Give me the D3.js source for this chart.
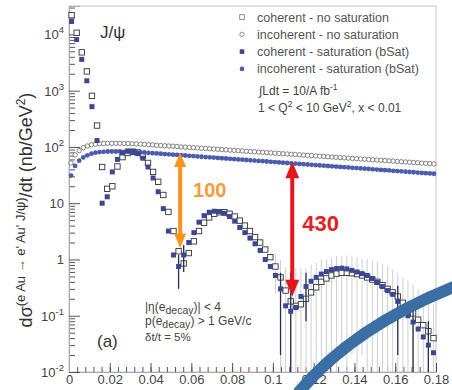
<!DOCTYPE html>
<html>
<head>
<meta charset="utf-8">
<script src="https://cdn.jsdelivr.net/npm/d3@7"></script>
<style>
  body { margin: 0; background: #fff; }
  svg { display: block; }
  text { font-family: "Liberation Sans", Arial, sans-serif; }
</style>
</head>
<body>
<svg id="chart"></svg>
<script>
const width = 452
const height = 390
const margin = { top: 6, right: 16, bottom: 18, left: 69 }

// bin widths of the two t histograms (GeV^2)
const coherentBinWidth = 0.0025
const incoherentBinWidth = 0.002

// coherent, open squares / filled squares (nb/GeV^2)
const coherentNoSat = [22000, 10700, 4800, 2200, 810, 240, 44, 18, 20, 45,
  66, 78, 82, 80, 70, 52, 36, 24, 14, 7,
  3.2, 1.4, 0.85, 1.3, 2.1, 3.2, 4.5, 5.6, 6.5, 6.9,
  6.9, 6.5, 5.8, 4.9, 4.0, 3.2, 2.5, 2.0, 1.5, 1.1,
  0.75, 0.48, 0.28, 0.18, 0.15, 0.16, 0.2, 0.26, 0.32, 0.4,
  0.46, 0.52, 0.56, 0.58, 0.58, 0.57, 0.55, 0.52, 0.48, 0.44,
  0.40, 0.35, 0.30, 0.26, 0.22, 0.17, 0.14, 0.11, 0.085, 0.068,
  0.053, 0.04]
const coherentSat = [17000, 8100, 3600, 1500, 520, 130, 10, 13, 36, 60,
  78, 85, 84, 76, 63, 44, 28, 16, 8, 3.2,
  1.2, 0.75, 1.2, 2.0, 3.0, 4.6, 6.0, 6.9, 7.2, 7.1,
  6.6, 5.8, 4.8, 3.7, 3.0, 2.4, 1.9, 1.45, 1.0, 0.75,
  0.52, 0.3, 0.15, 0.12, 0.14, 0.22, 0.33, 0.41, 0.48, 0.55,
  0.61, 0.66, 0.69, 0.70, 0.68, 0.64, 0.60, 0.56, 0.52, 0.46,
  0.39, 0.33, 0.28, 0.24, 0.18, 0.14, 0.10, 0.077, 0.058, 0.042,
  0.030, 0.022]

// incoherent, open circles / filled circles
const incoherentNoSat = [52, 72, 86, 97, 104, 109, 112, 114, 115, 116,
  116, 116, 116, 115, 115, 114, 113, 112, 111, 110,
  109, 107, 106, 105, 104, 103, 102, 100, 99.4, 98.3,
  97.2, 96.1, 95.0, 93.9, 92.9, 91.8, 90.8, 89.8, 88.8, 87.8,
  86.8, 85.8, 84.9, 83.9, 83.0, 82.0, 81.1, 80.2, 79.3, 78.4,
  77.5, 76.7, 75.8, 75.0, 74.1, 73.3, 72.5, 71.7, 70.9, 70.1,
  69.3, 68.5, 67.7, 67.0, 66.2, 65.5, 64.8, 64.0, 63.3, 62.6,
  61.9, 61.2, 60.5, 59.9, 59.2, 58.5, 57.9, 57.2, 56.6, 56.0,
  55.3, 54.7, 54.1, 53.5, 52.9, 52.3, 51.7, 51.2, 50.6, 50.0]
const incoherentSat = [31, 46, 57, 65, 71, 76, 79, 81, 82, 83,
  83, 83, 83, 82, 82, 81, 81, 80, 80, 78.5,
  77.5, 76.6, 75.7, 74.8, 73.9, 73.0, 72.1, 71.2, 70.4, 69.5,
  68.7, 67.8, 67.0, 66.2, 65.4, 64.6, 63.8, 63.0, 62.3, 61.5,
  60.8, 60.0, 59.3, 58.6, 57.9, 57.2, 56.5, 55.8, 55.1, 54.4,
  53.8, 53.1, 52.5, 51.8, 51.2, 50.6, 50.0, 49.4, 48.8, 48.2,
  47.6, 47.0, 46.4, 45.9, 45.3, 44.8, 44.2, 43.7, 43.2, 42.6,
  42.1, 41.6, 41.1, 40.6, 40.1, 39.6, 39.1, 38.7, 38.2, 37.7,
  37.3, 36.8, 36.4, 35.9, 35.5, 35.1, 34.6, 34.2, 33.8, 33.4]

// [bin index, error] for the coherent points
const coherentNoSatErrors = [[40, 0.5], [41, 0.5], [42, 0.45], [43, 0.45], [44, 0.55], [45, 0.55],
  [46, 0.5], [47, 0.55], [48, 0.55], [49, 0.6], [50, 0.55], [51, 0.55], [52, 0.6], [53, 0.55],
  [54, 0.6], [55, 0.55], [56, 0.55], [57, 0.5], [58, 0.55], [59, 0.5], [60, 0.5], [61, 0.45],
  [62, 0.45], [63, 0.4], [64, 0.35], [65, 0.3], [66, 0.28], [67, 0.25], [68, 0.2], [69, 0.18],
  [70, 0.15], [71, 0.12]]
const coherentSatErrors = [[21, 0.45], [22, 0.6], [41, 0.28], [43, 0.45], [46, 0.25],
  [64, 0.16], [67, 0.07], [70, 0.05]]

const xTicks = [0, 0.02, 0.04, 0.06, 0.08, 0.1, 0.12, 0.14, 0.16, 0.18]
const xTickLabels = ['0', '0.02', '0.04', '0.06', '0.08', '0.1', '0.12', '0.14', '0.16', '0.18']
const yTicks = [1e-2, 1e-1, 1, 10, 1e2, 1e3, 1e4]
const yTickLabels = [['10', '-2'], ['10', '-1'], ['1', ''], ['10', ''], ['10', '2'], ['10', '3'], ['10', '4']]

const legendLabels = ['coherent - no saturation', 'incoherent - no saturation',
  'coherent - saturation (bSat)', 'incoherent - saturation (bSat)']

// ratio arrows: t, upper and lower ends, label
const ratioArrows = [
  { t: 0.0545, top: 79, bottom: 1.6, label: '100', color: '#f7931e', text: '#f59b3c', head: 12 },
  { t: 0.1095, top: 55, bottom: 0.22, label: '430', color: '#e3161d', text: '#e3201f', head: 14 },
]

const colors = {
  openSquare: '#333',
  openCircle: '#666',
  filledSquare: '#3a4894',
  filledCircle: '#4a5cb0',
  frame: '#aaa',
  tick: '#555',
  label: '#444',
}

const svg = d3.select('#chart')
  .attr('width', width)
  .attr('height', height)

svg.append('rect').attr('width', width).attr('height', height).attr('fill', '#fff')

const x = d3.scaleLinear()
  .domain([0, 0.18])
  .range([margin.left, width - margin.right])

const y = d3.scaleLog()
  .domain([0.01, 3.2e4])
  .range([height - margin.bottom, margin.top])

const yMin = y.domain()[0]

const coherentT = (i) => (i + 0.5) * coherentBinWidth
const incoherentT = (i) => (i + 0.5) * incoherentBinWidth

// frame
svg.append('rect')
  .attr('x', x(0)).attr('y', margin.top)
  .attr('width', x(0.18) - x(0)).attr('height', y(yMin) - margin.top)
  .attr('fill', 'none').attr('stroke', '#c4c4c4').attr('stroke-width', 1)

// x axis
const xMinor = d3.range(0, 0.1801, 0.004)
const xAxisMinor = d3.axisBottom(x).tickValues(xMinor).tickSize(-5).tickFormat('')
const xAxisMajor = d3.axisBottom(x).tickValues(xTicks).tickSize(-9)
  .tickFormat((d, i) => xTickLabels[i])

svg.append('g')
  .attr('transform', `translate(0,${y(yMin)})`)
  .call(xAxisMinor)
  .call((g) => g.select('.domain').remove())
  .call((g) => g.selectAll('line').attr('stroke', colors.tick))

const gx = svg.append('g')
  .attr('transform', `translate(0,${y(yMin)})`)
  .call(xAxisMajor)
gx.select('.domain').attr('stroke', colors.frame)
gx.selectAll('line').attr('stroke', colors.tick)
gx.selectAll('text')
  .attr('font-size', 13).attr('fill', colors.label)
  .attr('font-family', '"Liberation Sans", Arial, sans-serif')
  .attr('y', 3)

// y axis
const yMinor = []
for (let e = -2; e <= 4; e++) {
  for (let m = 2; m <= 9; m++) {
    const v = m * Math.pow(10, e)
    if (v <= y.domain()[1]) yMinor.push(v)
  }
}
const gyMinor = svg.append('g')
  .attr('transform', `translate(${x(0)},0)`)
  .call(d3.axisLeft(y).tickValues(yMinor).tickSize(-6).tickFormat(''))
gyMinor.select('.domain').remove()
gyMinor.selectAll('line').attr('stroke', colors.tick)

const gy = svg.append('g')
  .attr('transform', `translate(${x(0)},0)`)
  .call(d3.axisLeft(y).tickValues(yTicks).tickSize(-11).tickFormat(''))
gy.select('.domain').attr('stroke', colors.frame)
gy.selectAll('line').attr('stroke', colors.tick)

const yLabels = svg.append('g')
  .attr('font-size', 13).attr('fill', colors.label).attr('text-anchor', 'end')
yTicks.forEach((v, i) => {
  const [base, exp] = yTickLabels[i]
  const t = yLabels.append('text')
    .attr('x', x(0) - 5)
    .attr('y', y(v) + 5)
  t.append('tspan').text(base)
  if (exp) {
    t.append('tspan').attr('font-size', 9.5).attr('dy', -6).text(exp)
  }
})

// y axis title
const yTitle = svg.append('text')
  .attr('transform', `translate(32,210) rotate(-90)`)
  .attr('text-anchor', 'middle')
  .attr('fill', '#333')
  .attr('font-size', 18)
yTitle.append('tspan').text('dσ')
yTitle.append('tspan').attr('font-size', 13).attr('dy', -7).text('(e Au → e\' Au\' J/ψ)')
yTitle.append('tspan').attr('dy', 7).text('/dt (nb/GeV')
yTitle.append('tspan').attr('font-size', 12).attr('dy', -7).text('2')
yTitle.append('tspan').attr('dy', 7).text(')')

// error bars
const errorBar = (group, series, errors, tOf, color, w) => {
  group.selectAll('line')
    .data(errors)
    .join('line')
      .attr('x1', (d) => x(tOf(d[0])))
      .attr('x2', (d) => x(tOf(d[0])))
      .attr('y1', (d) => y(series[d[0]] + d[1]))
      .attr('y2', (d) => y(Math.max(series[d[0]] - d[1], yMin)))
      .attr('stroke', color)
      .attr('stroke-width', w)
}
errorBar(svg.append('g'), coherentNoSat, coherentNoSatErrors, coherentT, '#cfcfcf', 1)

// open squares: coherent, no saturation
svg.append('g')
  .selectAll('rect')
  .data(coherentNoSat)
  .join('rect')
    .attr('x', (d, i) => x(coherentT(i)) - 2.7)
    .attr('y', (d) => y(d) - 2.7)
    .attr('width', 5.4)
    .attr('height', 5.4)
    .attr('fill', '#fff')
    .attr('stroke', colors.openSquare)
    .attr('stroke-width', 0.9)

// open circles: incoherent, no saturation
svg.append('g')
  .selectAll('circle')
  .data(incoherentNoSat)
  .join('circle')
    .attr('cx', (d, i) => x(incoherentT(i)))
    .attr('cy', (d) => y(d))
    .attr('r', 2.2)
    .attr('fill', '#fff')
    .attr('stroke', colors.openCircle)
    .attr('stroke-width', 0.8)

errorBar(svg.append('g'), coherentSat, coherentSatErrors, coherentT, '#262c52', 1.3)

// filled circles: incoherent, saturation
svg.append('g')
  .selectAll('circle')
  .data(incoherentSat)
  .join('circle')
    .attr('cx', (d, i) => x(incoherentT(i)))
    .attr('cy', (d) => y(d))
    .attr('r', 2.4)
    .attr('fill', colors.filledCircle)

// filled squares: coherent, saturation
svg.append('g')
  .selectAll('rect')
  .data(coherentSat)
  .join('rect')
    .attr('x', (d, i) => x(coherentT(i)) - 2.5)
    .attr('y', (d) => y(d) - 2.5)
    .attr('width', 5)
    .attr('height', 5)
    .attr('fill', colors.filledSquare)

// ratio arrows
ratioArrows.forEach((a) => {
  const ax = x(a.t)
  const y0 = y(a.top)
  const y1 = y(a.bottom)
  const h = a.head
  const g = svg.append('g')
  g.append('line')
    .attr('x1', ax).attr('x2', ax)
    .attr('y1', y0 + h).attr('y2', y1 - h)
    .attr('stroke', a.color).attr('stroke-width', 4)
  g.append('path')
    .attr('d', `M${ax},${y0} L${ax - h / 2},${y0 + h * 1.2} L${ax + h / 2},${y0 + h * 1.2} Z`)
    .attr('fill', a.color)
  g.append('path')
    .attr('d', `M${ax},${y1} L${ax - h / 2},${y1 - h * 1.2} L${ax + h / 2},${y1 - h * 1.2} Z`)
    .attr('fill', a.color)
})
svg.append('text')
  .attr('x', x(ratioArrows[0].t) + 13).attr('y', 197)
  .attr('font-size', 20).attr('font-weight', 'bold').attr('fill', ratioArrows[0].text)
  .text(ratioArrows[0].label)
svg.append('text')
  .attr('x', x(ratioArrows[1].t) + 10).attr('y', 231)
  .attr('font-size', 22).attr('font-weight', 'bold').attr('fill', ratioArrows[1].text)
  .text(ratioArrows[1].label)

// J/psi
svg.append('text')
  .attr('x', 100).attr('y', 38)
  .attr('font-size', 17).attr('fill', '#333')
  .text('J/ψ')

// legend
const legend = svg.append('g').attr('font-size', 12.5).attr('fill', '#555')
legendLabels.forEach((label, i) => {
  const ly = 17 + i * 17.3
  const mx = 242
  if (i === 0) {
    legend.append('rect').attr('x', mx - 2.3).attr('y', ly - 2.3).attr('width', 4.6).attr('height', 4.6)
      .attr('fill', '#fff').attr('stroke', '#777').attr('stroke-width', 0.8)
  } else if (i === 1) {
    legend.append('circle').attr('cx', mx).attr('cy', ly).attr('r', 2.2)
      .attr('fill', '#fff').attr('stroke', '#777').attr('stroke-width', 0.8)
  } else if (i === 2) {
    legend.append('rect').attr('x', mx - 2.3).attr('y', ly - 2.3).attr('width', 4.6).attr('height', 4.6)
      .attr('fill', colors.filledSquare)
  } else {
    legend.append('circle').attr('cx', mx).attr('cy', ly).attr('r', 2.3)
      .attr('fill', colors.filledCircle)
  }
  legend.append('text').attr('x', 257).attr('y', ly + 4.5).text(label)
})

const lumi = svg.append('g').attr('font-size', 12).attr('fill', '#444')
const l1 = lumi.append('text').attr('x', 259).attr('y', 95)
l1.append('tspan').text('∫Ldt = 10/A fb')
l1.append('tspan').attr('font-size', 8.5).attr('dy', -5).text('-1')
const l2 = lumi.append('text').attr('x', 258).attr('y', 112)
l2.append('tspan').text('1 < Q')
l2.append('tspan').attr('font-size', 8.5).attr('dy', -5).text('2')
l2.append('tspan').attr('dy', 5).text(' < 10 GeV')
l2.append('tspan').attr('font-size', 8.5).attr('dy', -5).text('2')
l2.append('tspan').attr('dy', 5).text(', x < 0.01')

// cuts
const cuts = svg.append('g').attr('font-size', 12).attr('fill', '#444')
const c1 = cuts.append('text').attr('x', 145).attr('y', 311)
c1.append('tspan').text('|η(e')
c1.append('tspan').attr('font-size', 10.5).attr('dy', 2.5).text('decay')
c1.append('tspan').attr('dy', -2.5).text(')| < 4')
const c2 = cuts.append('text').attr('x', 145).attr('y', 325)
c2.append('tspan').text('p(e')
c2.append('tspan').attr('font-size', 10.5).attr('dy', 2.5).text('decay')
c2.append('tspan').attr('dy', -2.5).text(') > 1 GeV/c')
cuts.append('text').attr('x', 145).attr('y', 341).attr('font-size', 11.5).text('δt/t = 5%')

svg.append('text')
  .attr('x', 97).attr('y', 347)
  .attr('font-size', 17).attr('fill', '#333')
  .text('(a)')

// blue swoosh overlay
svg.append('path')
  .attr('d', 'M298,393 Q353,327 456,286')
  .attr('fill', 'none')
  .attr('stroke', '#3b6ea5')
  .attr('stroke-width', 12)
</script>
</body>
</html>
